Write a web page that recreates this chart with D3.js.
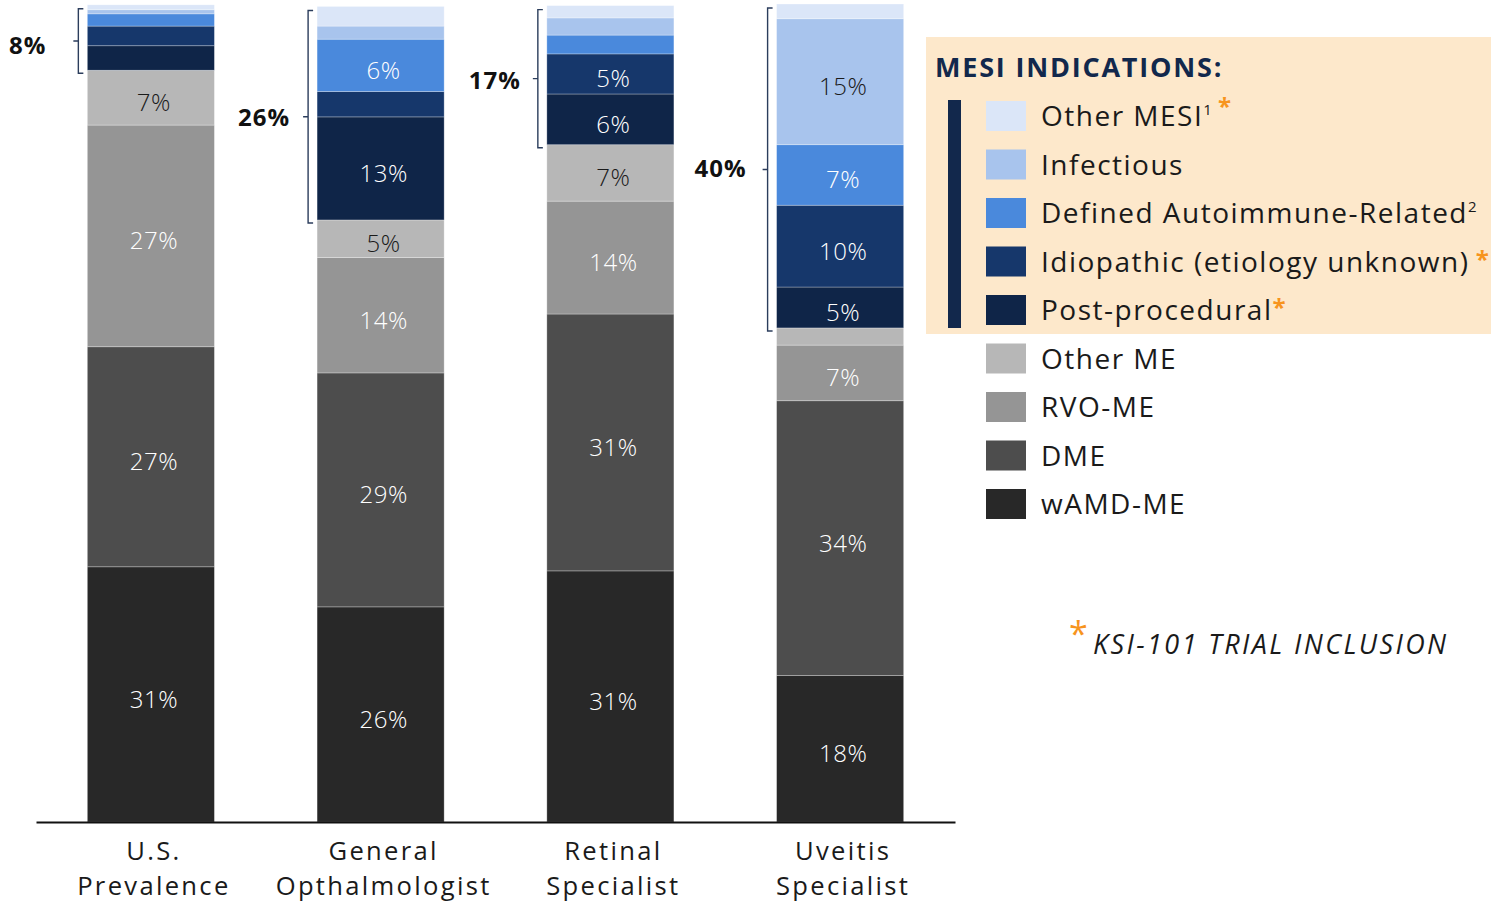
<!DOCTYPE html>
<html><head><meta charset="utf-8">
<script src="https://cdn.jsdelivr.net/npm/d3@7"></script>
<style>
html,body{margin:0;padding:0;background:#fff;}
svg{display:block;font-family:"Open Sans",sans-serif;}
</style></head>
<body>
<svg id="chart" width="1491" height="903"></svg>
<script>
// ---- data ----
const categories = ["U.S.|Prevalence", "General|Opthalmologist", "Retinal|Specialist", "Uveitis|Specialist"];
const seriesNames = ["wAMD-ME", "DME", "RVO-ME", "Other ME", "Post-procedural", "Idiopathic (etiology unknown)", "Defined Autoimmune-Related", "Infectious", "Other MESI"];
const wAMD        = [31.2, 26.3, 30.7, 17.9];
const DME         = [26.9, 28.6, 31.4, 33.6];
const RVO         = [27.1, 14.1, 13.8, 6.8];
const otherME     = [6.7, 4.6, 6.9, 2.1];
const postProc    = [3.0, 12.6, 6.2, 5.0];
const idiopathic  = [2.4, 3.1, 4.9, 10.0];
const autoimmune  = [1.5, 6.4, 2.3, 7.4];
const infectious  = [0.5, 1.6, 2.1, 15.4];
const otherMESI   = [0.6, 2.4, 1.5, 1.8];
const seriesValues = [wAMD, DME, RVO, otherME, postProc, idiopathic, autoimmune, infectious, otherMESI];
const mesiStartIndex = 4;
const legendOrder = [8, 7, 6, 5, 4, 3, 2, 1, 0];
const legendSup = {8: "1", 6: "2"};
const legendStar = {8: " *", 5: " *", 4: "*"};
const footnoteText = "KSI-101 TRIAL INCLUSION";
const legendTitle = "MESI INDICATIONS:";

// ---- styles ----
const colors = ["#282828", "#4d4d4d", "#959595", "#b7b7b7", "#0f2548", "#16376b", "#4a89dc", "#a8c4ed", "#dbe6f8"];
const darkText = {3: true, 7: true};
const navy = "#12284c";
const orange = "#f7941d";
const bracketLabelGap = [27, 13, 12, 16];
const bracketLabelDy = [3, 0, 1, -2];

const svg = d3.select("#chart");
const axisY = 822;
const x = d3.scaleBand().domain(categories).range([36, 955]).paddingInner(0.447).paddingOuter(0.2235);
const y = d3.scaleLinear().domain([0, 100]).range([axisY, 4]);

const rows = categories.map((c, i) => {
  const r = {cat: c};
  seriesNames.forEach((s, j) => r[s] = seriesValues[j][i]);
  return r;
});
const stacked = d3.stack().keys(seriesNames)(rows);

const g = svg.append("g");
stacked.forEach((layer, j) => {
  g.selectAll(null).data(layer).enter().append("rect")
    .attr("x", d => x(d.data.cat))
    .attr("width", x.bandwidth())
    .attr("y", d => y(d[1]))
    .attr("height", d => y(d[0]) - y(d[1]))
    .attr("fill", colors[j])
    .attr("stroke", "rgba(255,255,255,0.35)")
    .attr("stroke-width", 0.8);
});
stacked.forEach((layer, j) => {
  g.selectAll(null).data(layer.filter(d => (d[1] - d[0]) >= 4.5)).enter().append("text")
    .attr("x", d => x(d.data.cat) + x.bandwidth() / 2 + 3)
    .attr("y", d => (y(d[0]) + y(d[1])) / 2 + 4)
    .attr("text-anchor", "middle")
    .attr("dominant-baseline", "central")
    .attr("font-size", 24)
    .attr("font-weight", 300)
    .attr("letter-spacing", 0.5)
    .attr("fill", darkText[j] ? "#1a1a1a" : "#ffffff")
    .text(d => Math.round(d[1] - d[0]) + "%");
});

// brackets
categories.forEach((c, i) => {
  const bottomVal = stacked[mesiStartIndex][i][0];
  const topVal = stacked[seriesNames.length - 1][i][1];
  const total = topVal - bottomVal;
  const yt = y(topVal) + 4, yb = y(bottomVal) + 3;
  const bx = x(c) - 9;
  const ym = (yt + yb) / 2;
  svg.append("path")
    .attr("d", `M${bx + 5},${yt} L${bx},${yt} L${bx},${yb} L${bx + 5},${yb} M${bx},${ym} L${bx - 5},${ym}`)
    .attr("fill", "none").attr("stroke", "#2b3d5c").attr("stroke-width", 1.4);
  svg.append("text")
    .attr("x", bx - 5 - bracketLabelGap[i]).attr("y", ym + bracketLabelDy[i])
    .attr("text-anchor", "end").attr("dominant-baseline", "central")
    .attr("font-size", 24).attr("font-weight", 700).attr("letter-spacing", 1).attr("fill", "#111")
    .text(Math.round(total) + "%");
});

// axis
const xAxis = d3.axisBottom(x).tickSize(0).tickFormat("");
const ax = svg.append("g").attr("transform", `translate(0,${axisY})`).call(xAxis);
ax.select(".domain").attr("stroke", "#111").attr("stroke-width", 2);
categories.forEach(c => {
  c.split("|").forEach((p, k) => {
    svg.append("text").attr("text-anchor", "middle").attr("font-size", 25.6)
      .attr("letter-spacing", 2.3).attr("fill", "#1a1a1a")
      .attr("x", x(c) + x.bandwidth() / 2 + 3).attr("y", 859.5 + k * 35).text(p);
  });
});

// legend
svg.append("rect").attr("x", 926).attr("y", 37).attr("width", 565).attr("height", 297).attr("fill", "#fde8cb");
svg.append("text").attr("x", 935).attr("y", 77).attr("font-size", 27).attr("font-weight", 700)
  .attr("letter-spacing", 1.8).attr("fill", navy).text(legendTitle);
svg.append("rect").attr("x", 948).attr("y", 100).attr("width", 13).attr("height", 228).attr("fill", navy);
legendOrder.forEach((j, k) => {
  const cy = 116 + k * 48.5;
  svg.append("rect").attr("x", 986).attr("y", cy - 15).attr("width", 40).attr("height", 30).attr("fill", colors[j]);
  const t = svg.append("text").attr("x", 1041).attr("y", cy + 10).attr("font-size", 28)
    .attr("letter-spacing", 1.5).attr("fill", "#1a1a1a").attr("xml:space", "preserve");
  t.append("tspan").text(seriesNames[j]);
  if (legendSup[j]) t.append("tspan").attr("font-size", 15).attr("letter-spacing", 0).attr("dy", -11).text(legendSup[j]);
  if (legendStar[j]) {
    const st = t.append("tspan").attr("fill", orange).attr("font-weight", 700).attr("font-size", 24)
      .attr("letter-spacing", 0);
    st.attr("dy", legendSup[j] ? 0 : -4);
    st.text(legendStar[j]);
  }
});

// footnote
svg.append("text").attr("x", 1069).attr("y", 646).attr("font-size", 34).attr("fill", orange).text("*");
svg.append("text").attr("x", 1093).attr("y", 654).attr("font-size", 27).attr("font-style", "italic")
  .attr("letter-spacing", 2.4).attr("fill", "#1a1a1a").text(footnoteText);
</script>
</body></html>
